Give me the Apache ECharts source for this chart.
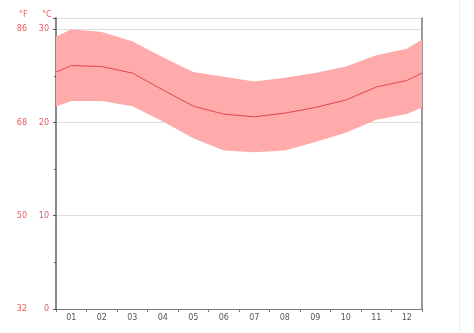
<!DOCTYPE html>
<html>
<head>
<meta charset="utf-8">
<style>
  html, body { margin: 0; padding: 0; background: #fff; }
  #chart { width: 474px; height: 333px; }
</style>
<script src="https://cdn.jsdelivr.net/npm/echarts@6/dist/echarts.min.js"></script>
</head>
<body>
<div id="chart"></div>
<script>
// Monthly temperatures in °C
const months = ['01', '02', '03', '04', '05', '06', '07', '08', '09', '10', '11', '12'];
const tempMin = [22.3, 22.3, 21.75, 20.1, 18.3, 17.0, 16.8, 17.0, 17.9, 18.9, 20.3, 20.9];
const tempAvg = [26.1, 26.0, 25.3, 23.5, 21.75, 20.9, 20.6, 21.0, 21.6, 22.4, 23.8, 24.5];
const tempMax = [30.0, 29.7, 28.7, 27.0, 25.4, 24.9, 24.4, 24.8, 25.3, 26.0, 27.2, 27.9];
// Values at the left and right plot edges (year wraps around)
const edgeMin = [21.7, 21.6];
const edgeAvg = [25.4, 25.3];
const edgeMax = [29.2, 28.9];

const celsiusTicks = [0, 10, 20, 30];

function withEdges(values, edges) {
  const pts = [[0.5, edges[0]]];
  values.forEach((v, i) => pts.push([i + 1, v]));
  pts.push([12.5, edges[1]]);
  return pts;
}

const lowPts = withEdges(tempMin, edgeMin);
const highPts = withEdges(tempMax, edgeMax);
const avgPts = withEdges(tempAvg, edgeAvg);

const red = '#e85a5a';
const labelFont = 'DejaVu Sans';

// Min–max band as one polygon: upper edge left to right, lower edge back
function renderBand(params, api) {
  if (params.dataIndex !== 0) return null;
  const pts = highPts.map(p => api.coord(p))
    .concat(lowPts.slice().reverse().map(p => api.coord(p)));
  return {
    type: 'polygon',
    shape: { points: pts },
    style: { fill: '#ffabab', stroke: null }
  };
}

const chart = echarts.init(document.getElementById('chart'), null, { renderer: 'canvas' });
chart.setOption({
  animation: false,
  grid: { left: 56, right: 52, top: 18, bottom: 24 },
  xAxis: [
    {
      type: 'category',
      data: months,
      boundaryGap: true,
      axisLine: { lineStyle: { color: '#777', width: 1 } },
      axisTick: { show: true, length: 3, lineStyle: { color: '#777' } },
      axisLabel: { color: '#555', fontSize: 8, fontFamily: labelFont, margin: 5 },
      splitLine: { show: false }
    },
    {
      type: 'value',
      min: 0.5,
      max: 12.5,
      show: false
    }
  ],
  yAxis: [
    {
      type: 'value',
      min: 0,
      max: 31.2,
      interval: 10,
      position: 'left',
      axisLine: { show: true, lineStyle: { color: '#888', width: 2 } },
      axisTick: { show: true, length: 3, lineStyle: { color: '#555' } },
      minorTick: { show: true, splitNumber: 2, length: 2, lineStyle: { color: '#555' } },
      axisLabel: {
        color: red, fontSize: 8, fontFamily: labelFont, margin: 7,
        showMaxLabel: false,
        formatter: v => celsiusTicks.includes(v) ? String(v) : ''
      },
      splitLine: { show: true, lineStyle: { color: '#dddddd', width: 1 } }
    },
    {
      type: 'value',
      min: 0,
      max: 31.2,
      interval: 10,
      position: 'left',
      offset: 22,
      axisLine: { show: false },
      axisTick: { show: false },
      axisLabel: {
        color: red, fontSize: 8, fontFamily: labelFont, margin: 7,
        showMaxLabel: false,
        formatter: v => celsiusTicks.includes(v) ? String(Math.round(v * 1.8 + 32)) : ''
      },
      splitLine: { show: false }
    },
    {
      type: 'value',
      min: 0,
      max: 31.2,
      position: 'right',
      axisLine: { show: true, lineStyle: { color: '#777', width: 1.5 } },
      axisTick: { show: false },
      axisLabel: { show: false },
      splitLine: { show: false }
    }
  ],
  graphic: [
    { type: 'text', left: 19, top: 11, style: { text: '°F', fill: red, fontSize: 8, fontFamily: labelFont } },
    { type: 'text', left: 42, top: 11, style: { text: '°C', fill: red, fontSize: 8, fontFamily: labelFont } },
    { type: 'line', shape: { x1: 459.5, y1: 0, x2: 459.5, y2: 333 }, style: { stroke: '#eeeeee', lineWidth: 1 } }
  ],
  series: [
    {
      name: 'range',
      type: 'custom',
      xAxisIndex: 1,
      yAxisIndex: 0,
      data: [[1, tempMax[0]]],
      renderItem: renderBand,
      silent: true,
      z: 1
    },
    {
      name: 'mean',
      type: 'line',
      xAxisIndex: 1,
      yAxisIndex: 0,
      data: avgPts,
      symbol: 'none',
      lineStyle: { color: '#e0464e', width: 1 },
      silent: true,
      z: 2
    }
  ]
});
</script>
</body>
</html>
